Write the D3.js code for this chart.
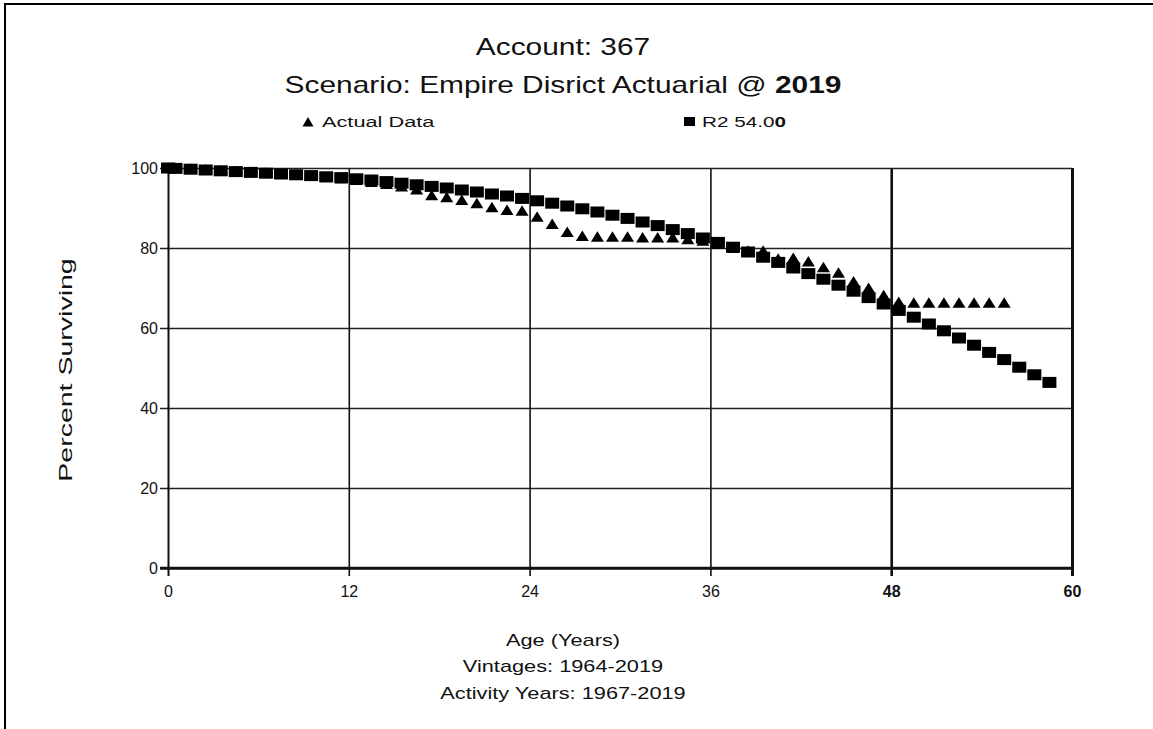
<!DOCTYPE html>
<html>
<head>
<meta charset="utf-8">
<script src="https://cdn.jsdelivr.net/npm/d3@7"></script>
<style>
  body { margin: 0; background: #fff; }
  svg { display: block; font-family: "Liberation Sans", Arial, sans-serif; }
</style>
</head>
<body>
<svg width="1153" height="729"></svg>
<script>
// ages (years) at which each point is plotted
const ages = [0, 0.5, 1.5, 2.5, 3.5, 4.5, 5.5, 6.5, 7.5, 8.5, 9.5, 10.5, 11.5, 12.5, 13.5, 14.5,
  15.5, 16.5, 17.5, 18.5, 19.5, 20.5, 21.5, 22.5, 23.5, 24.5, 25.5, 26.5, 27.5, 28.5, 29.5,
  30.5, 31.5, 32.5, 33.5, 34.5, 35.5, 36.5, 37.5, 38.5, 39.5, 40.5, 41.5, 42.5, 43.5, 44.5,
  45.5, 46.5, 47.5, 48.5, 49.5, 50.5, 51.5, 52.5, 53.5, 54.5, 55.5, 56.5, 57.5, 58.5];

// Actual Data (triangles), ages 0 .. 55.5
const actualPct = [100, 100, 99.8, 99.6, 99.4, 99.2, 99.0, 98.8, 98.6, 98.3, 98.0, 97.7, 97.4,
  97.0, 96.5, 96.0, 95.4, 94.6, 93.2, 92.7, 92.0, 91.2, 90.2, 89.5, 89.3, 87.8, 86.0, 84.0,
  83.0, 82.8, 82.8, 82.8, 82.6, 82.6, 82.6, 82.2, 81.8, 81.0, 80.0, 79.3, 79.3, 77.3, 77.5,
  76.6, 75.2, 73.8, 71.6, 70.0, 68.2, 66.5, 66.3, 66.3, 66.3, 66.3, 66.3, 66.3, 66.3];

// R2 54.00 curve (squares), ages 0 .. 58.5
const r2Pct = [100, 99.9, 99.7, 99.5, 99.3, 99.1, 98.9, 98.7, 98.5, 98.3, 98.1, 97.8, 97.6,
  97.3, 97.0, 96.6, 96.2, 95.8, 95.4, 95.0, 94.5, 94.0, 93.5, 93.0, 92.4, 91.8, 91.2, 90.5,
  89.8, 89.0, 88.2, 87.4, 86.5, 85.6, 84.6, 83.6, 82.5, 81.4, 80.2, 79.0, 77.7, 76.4, 75.0,
  73.6, 72.2, 70.7, 69.2, 67.6, 66.0, 64.4, 62.7, 61.0, 59.3, 57.5, 55.7, 53.9, 52.1, 50.2,
  48.3, 46.4];

const xTicks = [0, 12, 24, 36, 48, 60],
      yTicks = [0, 20, 40, 60, 80, 100],
      boldXTicks = [48, 60];

const svg = d3.select("svg");

const x = d3.scaleLinear().domain([0, 60]).range([168, 1072]);
const y = d3.scaleLinear().domain([0, 100]).range([568, 168]);

const plotW = x(60) - x(0),
      plotH = y(0) - y(100);

// outer frame (top + left edge visible)
svg.append("path")
    .attr("d", "M5,729V4H1153")
    .attr("fill", "none")
    .attr("stroke", "#000")
    .attr("stroke-width", 2);

// stretched text helper: parts = [[text, bold], ...]
const label = (px, py, size, parts, opts = {}) => {
  let sx = opts.sx || 1.3, rot = opts.rot || 0;
  let g = svg.append("g")
      .attr("transform", `translate(${px},${py}) rotate(${rot}) scale(${sx},1)`);
  let t = g.append("text")
      .attr("text-anchor", opts.anchor || "middle")
      .attr("dy", "0.35em")
      .attr("font-size", size)
      .attr("fill", "#111");
  parts.forEach(p => t.append("tspan").attr("font-weight", p[1] ? "bold" : "normal").text(p[0]));
  return g;
};

label(563, 47, 23, [["Account: 367", false]]);
label(563, 85, 23, [["Scenario: Empire Disrict Actuarial @ ", false], ["2019", true]]);

// legend
svg.append("path")
    .attr("transform", "translate(308,122)")
    .attr("d", "M-5.5,4.5L0,-5L5.5,4.5Z")
    .attr("fill", "#000");
label(322, 122, 15, [["Actual Data", false]], {anchor: "start", sx: 1.45});
svg.append("rect")
    .attr("x", 684).attr("y", 117)
    .attr("width", 11).attr("height", 9)
    .attr("fill", "#000");
label(702, 122, 15, [["R2 54.0", false], ["0", true]], {anchor: "start", sx: 1.38});

// y axis + horizontal grid
const yAxis = d3.axisLeft(y)
    .tickValues(yTicks)
    .tickSize(-plotW)
    .tickPadding(10);

let gY = svg.append("g")
    .attr("transform", `translate(${x(0)},0)`)
    .call(yAxis);
gY.select(".domain").remove();
gY.selectAll(".tick line")
    .attr("x1", -8)
    .attr("stroke", "#222")
    .attr("stroke-width", d => d === 0 ? 2.5 : 1.6);
gY.selectAll(".tick text")
    .attr("font-size", 16)
    .attr("fill", "#111")
    .attr("font-family", "Liberation Sans, Arial, sans-serif");

// x axis + vertical grid
const xAxis = d3.axisBottom(x)
    .tickValues(xTicks)
    .tickSize(-plotH)
    .tickPadding(18);

let gX = svg.append("g")
    .attr("transform", `translate(0,${y(0)})`)
    .call(xAxis);
gX.select(".domain").remove();
gX.selectAll(".tick line")
    .attr("y1", 8)
    .attr("stroke", "#111")
    .attr("stroke-width", d => d === 60 ? 3 : (d === 48 ? 2.6 : (d === 0 ? 2 : 1.6)));
gX.selectAll(".tick text")
    .attr("font-size", 16)
    .attr("fill", "#111")
    .attr("font-weight", d => boldXTicks.includes(d) ? "bold" : "normal")
    .attr("font-family", "Liberation Sans, Arial, sans-serif");

// redraw bottom axis on top of the verticals
svg.append("line")
    .attr("x1", x(0) - 8).attr("x2", x(60) + 1)
    .attr("y1", y(0)).attr("y2", y(0))
    .attr("stroke", "#111").attr("stroke-width", 2.5);

// R2 squares
svg.append("g").selectAll("rect")
    .data(r2Pct)
    .enter().append("rect")
    .attr("x", (d, i) => x(ages[i]) - 7)
    .attr("y", d => y(d) - 5.5)
    .attr("width", 14)
    .attr("height", 11)
    .attr("fill", "#000");

// Actual triangles
svg.append("g").selectAll("path")
    .data(actualPct)
    .enter().append("path")
    .attr("transform", (d, i) => `translate(${x(ages[i])},${y(d)})`)
    .attr("d", "M-6.5,5L0,-5.5L6.5,5Z")
    .attr("fill", "#000");

// axis titles
label(65, 370, 19, [["Percent Surviving", false]], {rot: -90, sx: 1.5});
label(563, 640, 17, [["Age (Years)", false]], {sx: 1.28});
label(563, 666, 17, [["Vintages: 1964-2019", false]], {sx: 1.28});
label(563, 693, 17, [["Activity Years: 1967-2019", false]], {sx: 1.28});
</script>
</body>
</html>
